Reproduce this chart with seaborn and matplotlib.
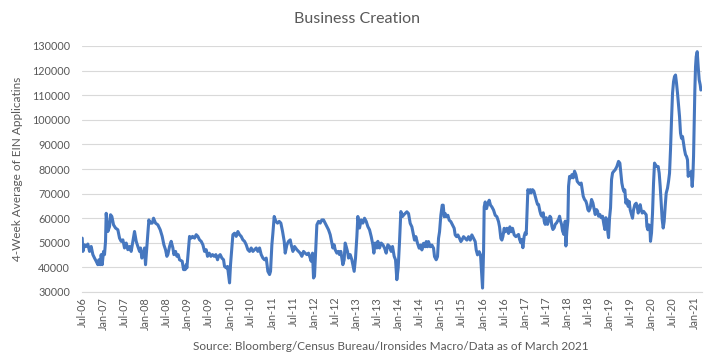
import numpy as np
import pandas as pd
import matplotlib
matplotlib.use("Agg")
import matplotlib.pyplot as plt
import matplotlib.dates as mdates
import seaborn as sns

# ---- data (decimal year, 4-week avg EIN applications) ----
years = [
    2006.500, 2006.516, 2006.555, 2006.595, 2006.634, 2006.674, 2006.713, 2006.753, 2006.792, 2006.832,
    2006.871, 2006.895, 2006.927, 2006.950, 2006.974, 2007.006, 2007.029, 2007.053, 2007.069, 2007.108,
    2007.148, 2007.172, 2007.203, 2007.243, 2007.290, 2007.345, 2007.385, 2007.424, 2007.464, 2007.503,
    2007.543, 2007.582, 2007.622, 2007.661, 2007.701, 2007.740, 2007.780, 2007.819, 2007.859, 2007.883,
    2007.914, 2007.938, 2007.977, 2008.001, 2008.041, 2008.080, 2008.112, 2008.159, 2008.191, 2008.238,
    2008.293, 2008.349, 2008.396, 2008.436, 2008.475, 2008.507, 2008.530, 2008.570, 2008.609, 2008.649,
    2008.673, 2008.712, 2008.744, 2008.775, 2008.807, 2008.870, 2008.902, 2008.941, 2008.965,
    2008.981, 2009.020, 2009.044, 2009.083, 2009.115, 2009.162, 2009.202, 2009.241, 2009.281, 2009.320,
    2009.360, 2009.399, 2009.439, 2009.470, 2009.510, 2009.549, 2009.589, 2009.628, 2009.668, 2009.707,
    2009.731, 2009.770, 2009.810, 2009.850, 2009.873, 2009.913, 2009.944, 2009.968, 2009.992, 2010.015,
    2010.047, 2010.071, 2010.110, 2010.150, 2010.189, 2010.229, 2010.268, 2010.308, 2010.347, 2010.387,
    2010.426, 2010.466, 2010.505, 2010.545, 2010.584, 2010.624, 2010.663, 2010.703, 2010.742, 2010.782,
    2010.821, 2010.861, 2010.900, 2010.940, 2010.963, 2010.995, 2011.019, 2011.050, 2011.090, 2011.129,
    2011.169, 2011.208, 2011.248, 2011.287, 2011.311, 2011.351, 2011.390, 2011.430, 2011.453, 2011.493,
    2011.532,
    2011.587, 2011.626, 2011.666, 2011.705, 2011.745, 2011.784, 2011.824, 2011.863, 2011.903, 2011.926,
    2011.958, 2011.982, 2012.005, 2012.037, 2012.061, 2012.100, 2012.140, 2012.179, 2012.219, 2012.258,
    2012.298, 2012.337, 2012.377, 2012.416, 2012.440, 2012.471, 2012.495, 2012.535, 2012.574, 2012.598,
    2012.629, 2012.653, 2012.677, 2012.708, 2012.732, 2012.756, 2012.787, 2012.811, 2012.851, 2012.890,
    2012.914, 2012.945, 2012.977, 2013.009, 2013.032, 2013.072, 2013.111, 2013.151, 2013.190, 2013.230,
    2013.269, 2013.309, 2013.348, 2013.388, 2013.411, 2013.443, 2013.483, 2013.506, 2013.546, 2013.585,
    2013.625, 2013.664, 2013.704, 2013.743, 2013.783, 2013.822, 2013.854, 2013.893, 2013.925, 2013.956,
    2013.988, 2014.020, 2014.051, 2014.091, 2014.122,
    2014.194, 2014.233, 2014.273, 2014.312, 2014.352, 2014.375, 2014.407, 2014.446, 2014.486, 2014.525,
    2014.549, 2014.589, 2014.628, 2014.652, 2014.683, 2014.707, 2014.747, 2014.786, 2014.826, 2014.849,
    2014.889, 2014.920, 2014.944, 2014.968, 2014.999, 2015.031, 2015.055, 2015.078, 2015.102, 2015.134,
    2015.165, 2015.197, 2015.236, 2015.276, 2015.315, 2015.339, 2015.371, 2015.402, 2015.442, 2015.473,
    2015.497, 2015.537, 2015.576, 2015.616, 2015.655, 2015.695, 2015.734, 2015.774, 2015.813, 2015.837,
    2015.868, 2015.908, 2015.939, 2015.963, 2015.987, 2016.011, 2016.026, 2016.050, 2016.082, 2016.113,
    2016.145, 2016.176, 2016.208, 2016.248, 2016.287, 2016.327, 2016.366, 2016.390, 2016.421, 2016.445,
    2016.469, 2016.500, 2016.524, 2016.564, 2016.603, 2016.635, 2016.666, 2016.698, 2016.737, 2016.777,
    2016.840, 2016.864, 2016.895, 2016.919, 2016.943, 2016.974, 2016.998, 2017.022, 2017.045, 2017.061,
    2017.093, 2017.117, 2017.140, 2017.172, 2017.203, 2017.235, 2017.267, 2017.290, 2017.314, 2017.346,
    2017.369, 2017.393, 2017.425, 2017.448, 2017.472, 2017.496, 2017.527, 2017.551, 2017.583, 2017.606,
    2017.630, 2017.654, 2017.685, 2017.709, 2017.741, 2017.764, 2017.788, 2017.812, 2017.835, 2017.859,
    2017.883, 2017.914, 2017.930, 2017.946, 2017.962, 2017.985, 2018.009, 2018.025, 2018.049, 2018.080,
    2018.104, 2018.136, 2018.167, 2018.199, 2018.230, 2018.262, 2018.294, 2018.325, 2018.349, 2018.373,
    2018.404, 2018.436, 2018.459, 2018.483, 2018.507, 2018.539, 2018.570, 2018.602, 2018.633, 2018.657,
    2018.689, 2018.712, 2018.736, 2018.768, 2018.799, 2018.831, 2018.862, 2018.886, 2018.910, 2018.934,
    2018.957, 2018.973, 2018.997, 2019.020, 2019.044, 2019.068, 2019.099, 2019.131,
    2019.170, 2019.209, 2019.241, 2019.264, 2019.288, 2019.312, 2019.335, 2019.359, 2019.383, 2019.414,
    2019.438, 2019.462, 2019.486, 2019.517, 2019.541, 2019.565, 2019.596, 2019.628, 2019.651, 2019.675,
    2019.699, 2019.723, 2019.746, 2019.770, 2019.802, 2019.833, 2019.865, 2019.881, 2019.904, 2019.928,
    2019.952, 2019.967, 2019.991, 2020.015, 2020.039, 2020.062, 2020.086, 2020.118, 2020.149, 2020.173,
    2020.197, 2020.220, 2020.244, 2020.268, 2020.291, 2020.315, 2020.339, 2020.370, 2020.394, 2020.418,
    2020.441, 2020.465, 2020.489, 2020.513, 2020.536, 2020.560, 2020.584, 2020.607, 2020.631, 2020.655,
    2020.678, 2020.702, 2020.726, 2020.750, 2020.773, 2020.797, 2020.821, 2020.844, 2020.860, 2020.884,
    2020.908, 2020.931, 2020.955, 2020.971, 2020.987, 2021.002, 2021.018, 2021.034, 2021.050, 2021.074,
    2021.097, 2021.121, 2021.145, 2021.160,
]

applications = [
    51900, 46500, 49200, 48500, 49500, 46500, 48500, 45200, 43800, 42500,
    41100, 43100, 41100, 45200, 41100, 46500, 45200, 50600, 62000, 54600,
    56600, 61400, 60700, 57300, 56000, 55300, 51900, 50600, 51200, 47900,
    49900, 47200, 48500, 46500, 50600, 54600, 50600, 48500, 46500, 47900,
    43800, 44500, 47900, 41100, 50600, 59300, 58000, 58000, 60000, 58000,
    57300, 55300, 52600, 49200, 47200, 44500, 45200, 48500, 50600, 47900,
    45200, 46500, 44500, 45200, 43100, 42500, 39100, 39100, 41100,
    39800, 47900, 52600, 51900, 52600, 51900, 53300, 52600, 51200, 50600,
    49200, 46500, 47200, 44500, 45800, 44500, 45200, 44500, 45200, 43100,
    44500, 45200, 43800, 43100, 40400, 39800, 40400, 37100, 33700, 41100,
    47900, 53300, 53900, 52600, 54600, 53300, 52600, 51200, 50600, 49200,
    47200, 46500, 47900, 46500, 47200, 47900, 46500, 47900, 45200, 43800,
    43100, 43800, 38400, 37100, 38400, 49200, 53900, 60700, 58700, 58000,
    58700, 58000, 54600, 50600, 45800, 49200, 50600, 51200, 49200, 46500,
    48500,
    47200, 46500, 45800, 44500, 46500, 45800, 45200, 45800, 43800, 42500,
    45800, 35700, 36400, 47900, 57300, 58700, 58000, 59300, 59300, 58000,
    56600, 55300, 53300, 49900, 47900, 49200, 47200, 45800, 46500, 45200,
    46500, 43800, 41100, 43100, 49900, 48500, 46500, 43800, 45200, 43100,
    41100, 38400, 43800, 52600, 60700, 56000, 59300, 58000, 60000, 58700,
    56600, 55300, 52600, 49200, 45800, 49900, 47900, 50600, 47900, 49900,
    49200, 47900, 45800, 49200, 48500, 46500, 48500, 44500, 43100, 35000,
    39800, 50600, 62700, 60700, 61400,
    62600, 61900, 57900, 56500, 53200, 51100, 52500, 49800, 47800, 49100,
    47100, 49800, 48400, 50500, 48400, 50500, 48400, 49100, 47800, 44400,
    43100, 44400, 51800, 54500, 61200, 65300, 65300, 60600, 61900, 60600,
    61200, 59200, 58600, 57200, 55900, 53200, 52500, 53200, 51800, 50500,
    51100, 52500, 51800, 51100, 52500, 51100, 53200, 51800, 50500, 47100,
    45100, 46400, 45100, 38300, 31600, 46400, 64600, 66600, 63900, 66000,
    67300, 65300, 64600, 63300, 61200, 60600, 58600, 56500, 51800, 51100,
    52500, 55900, 54500, 55900, 53800, 56500, 54500, 55900, 53200, 52500,
    53400, 51400, 50000, 51400, 48000, 52700, 54100, 53400, 63500, 71600,
    70300, 71600, 70300, 71600, 71000, 68900, 66900, 65600, 65600, 62900,
    61500, 60800, 62200, 58800, 57500, 60200, 57500, 58800, 60800, 60200,
    56800, 55400, 56100, 57500, 58100, 58800, 59500, 60800, 58800, 57500,
    54800, 53400, 56100, 58800, 48700, 54800, 58800, 73000, 77000, 76400,
    77700, 76400, 79100, 77700, 75000, 74300, 73700, 74300, 71600, 68900,
    67600, 66900, 65600, 63500, 62900, 64200, 67600, 66200, 63500, 61500,
    63500, 62900, 60800, 61500, 60200, 60800, 57500, 55400, 60200, 58800,
    54100, 52100, 60200, 64200, 75700, 78400, 79100, 79700,
    81000, 83100, 82400, 78300, 74300, 72200, 70900, 71500, 66100, 67500,
    64800, 66800, 63400, 61400, 60000, 63400, 65500, 66100, 64800, 62100,
    63400, 65500, 63400, 62100, 62800, 62100, 61400, 56700, 55300, 57300,
    56700, 50600, 54000, 62100, 74300, 82400, 81700, 81000, 81000, 78300,
    72900, 66100, 59400, 56000, 58700, 64800, 70200, 72200, 74900, 78300,
    87800, 100000, 110800, 115500, 117600, 118200, 114800, 110800, 106100, 101300,
    94600, 92500, 93200, 90500, 87800, 85800, 85100, 83700, 77000, 78300,
    77600, 79000, 72900, 77000, 85100, 98600, 112100, 121600, 125700, 127700,
    121600, 116200, 114200, 112100,
]

y_ticks = list(range(30000, 130001, 10000))
tick_start, tick_end = "2006-07-01", "2021-01-01"

title = "Business Creation"
y_label = "4-Week Average of EIN Applicatins"
source = "Source: Bloomberg/Census Bureau/Ironsides Macro/Data as of March 2021"

# ---- build frame (decimal year -> date) ----
yr = np.array(years)
dates = pd.Timestamp("2006-01-01") + pd.to_timedelta((yr - 2006.0) * 365.25, unit="D")
df = pd.DataFrame({"date": dates, "value": applications})

sns.set_style("white")
plt.rcParams["font.family"] = ["Lato", "DejaVu Sans"]
text_color = "#595959"

fig = plt.figure(figsize=(7.15, 3.58), dpi=100)
ax = fig.add_axes([82 / 715, 1 - 292 / 358, (702 - 82) / 715, (292 - 46) / 358])

sns.lineplot(data=df, x="date", y="value", ax=ax, color="#4677BF", linewidth=2.2)

ax.set_ylim(30000, 130000)
ax.set_yticks(y_ticks)
ax.set_yticklabels([str(v) for v in y_ticks])
ax.set_xlim(df["date"].iloc[0], df["date"].iloc[-1] + pd.Timedelta(days=10))

xt = pd.date_range(tick_start, tick_end, freq="6MS")
ax.set_xticks(xt)
ax.set_xticklabels([d.strftime("%b-%y") for d in xt], rotation=90)

ax.set_xlabel("")
ax.set_ylabel("")
ax.yaxis.grid(True, color="#D9D9D9", linewidth=0.8)
ax.xaxis.grid(False)
ax.set_axisbelow(True)
for s in ["top", "left", "right"]:
    ax.spines[s].set_visible(False)
ax.spines["bottom"].set_color("#D9D9D9")
ax.spines["bottom"].set_linewidth(0.8)
ax.tick_params(axis="y", length=0, pad=8.5, labelsize=7.8, labelcolor=text_color)
ax.tick_params(axis="x", length=0, pad=3.5, labelsize=7.8, labelcolor=text_color)

fig.text(0.5, 1 - 19 / 358, title, ha="center", va="center", fontsize=11.5, color=text_color)
fig.text(18 / 715, 1 - 169 / 358, y_label, ha="center", va="center", rotation=90,
         fontsize=8.5, color=text_color)
fig.text(391 / 715, 1 - 346 / 358, source, ha="center", va="center", fontsize=8.5, color=text_color)

fig.savefig("out.png", dpi=100)
